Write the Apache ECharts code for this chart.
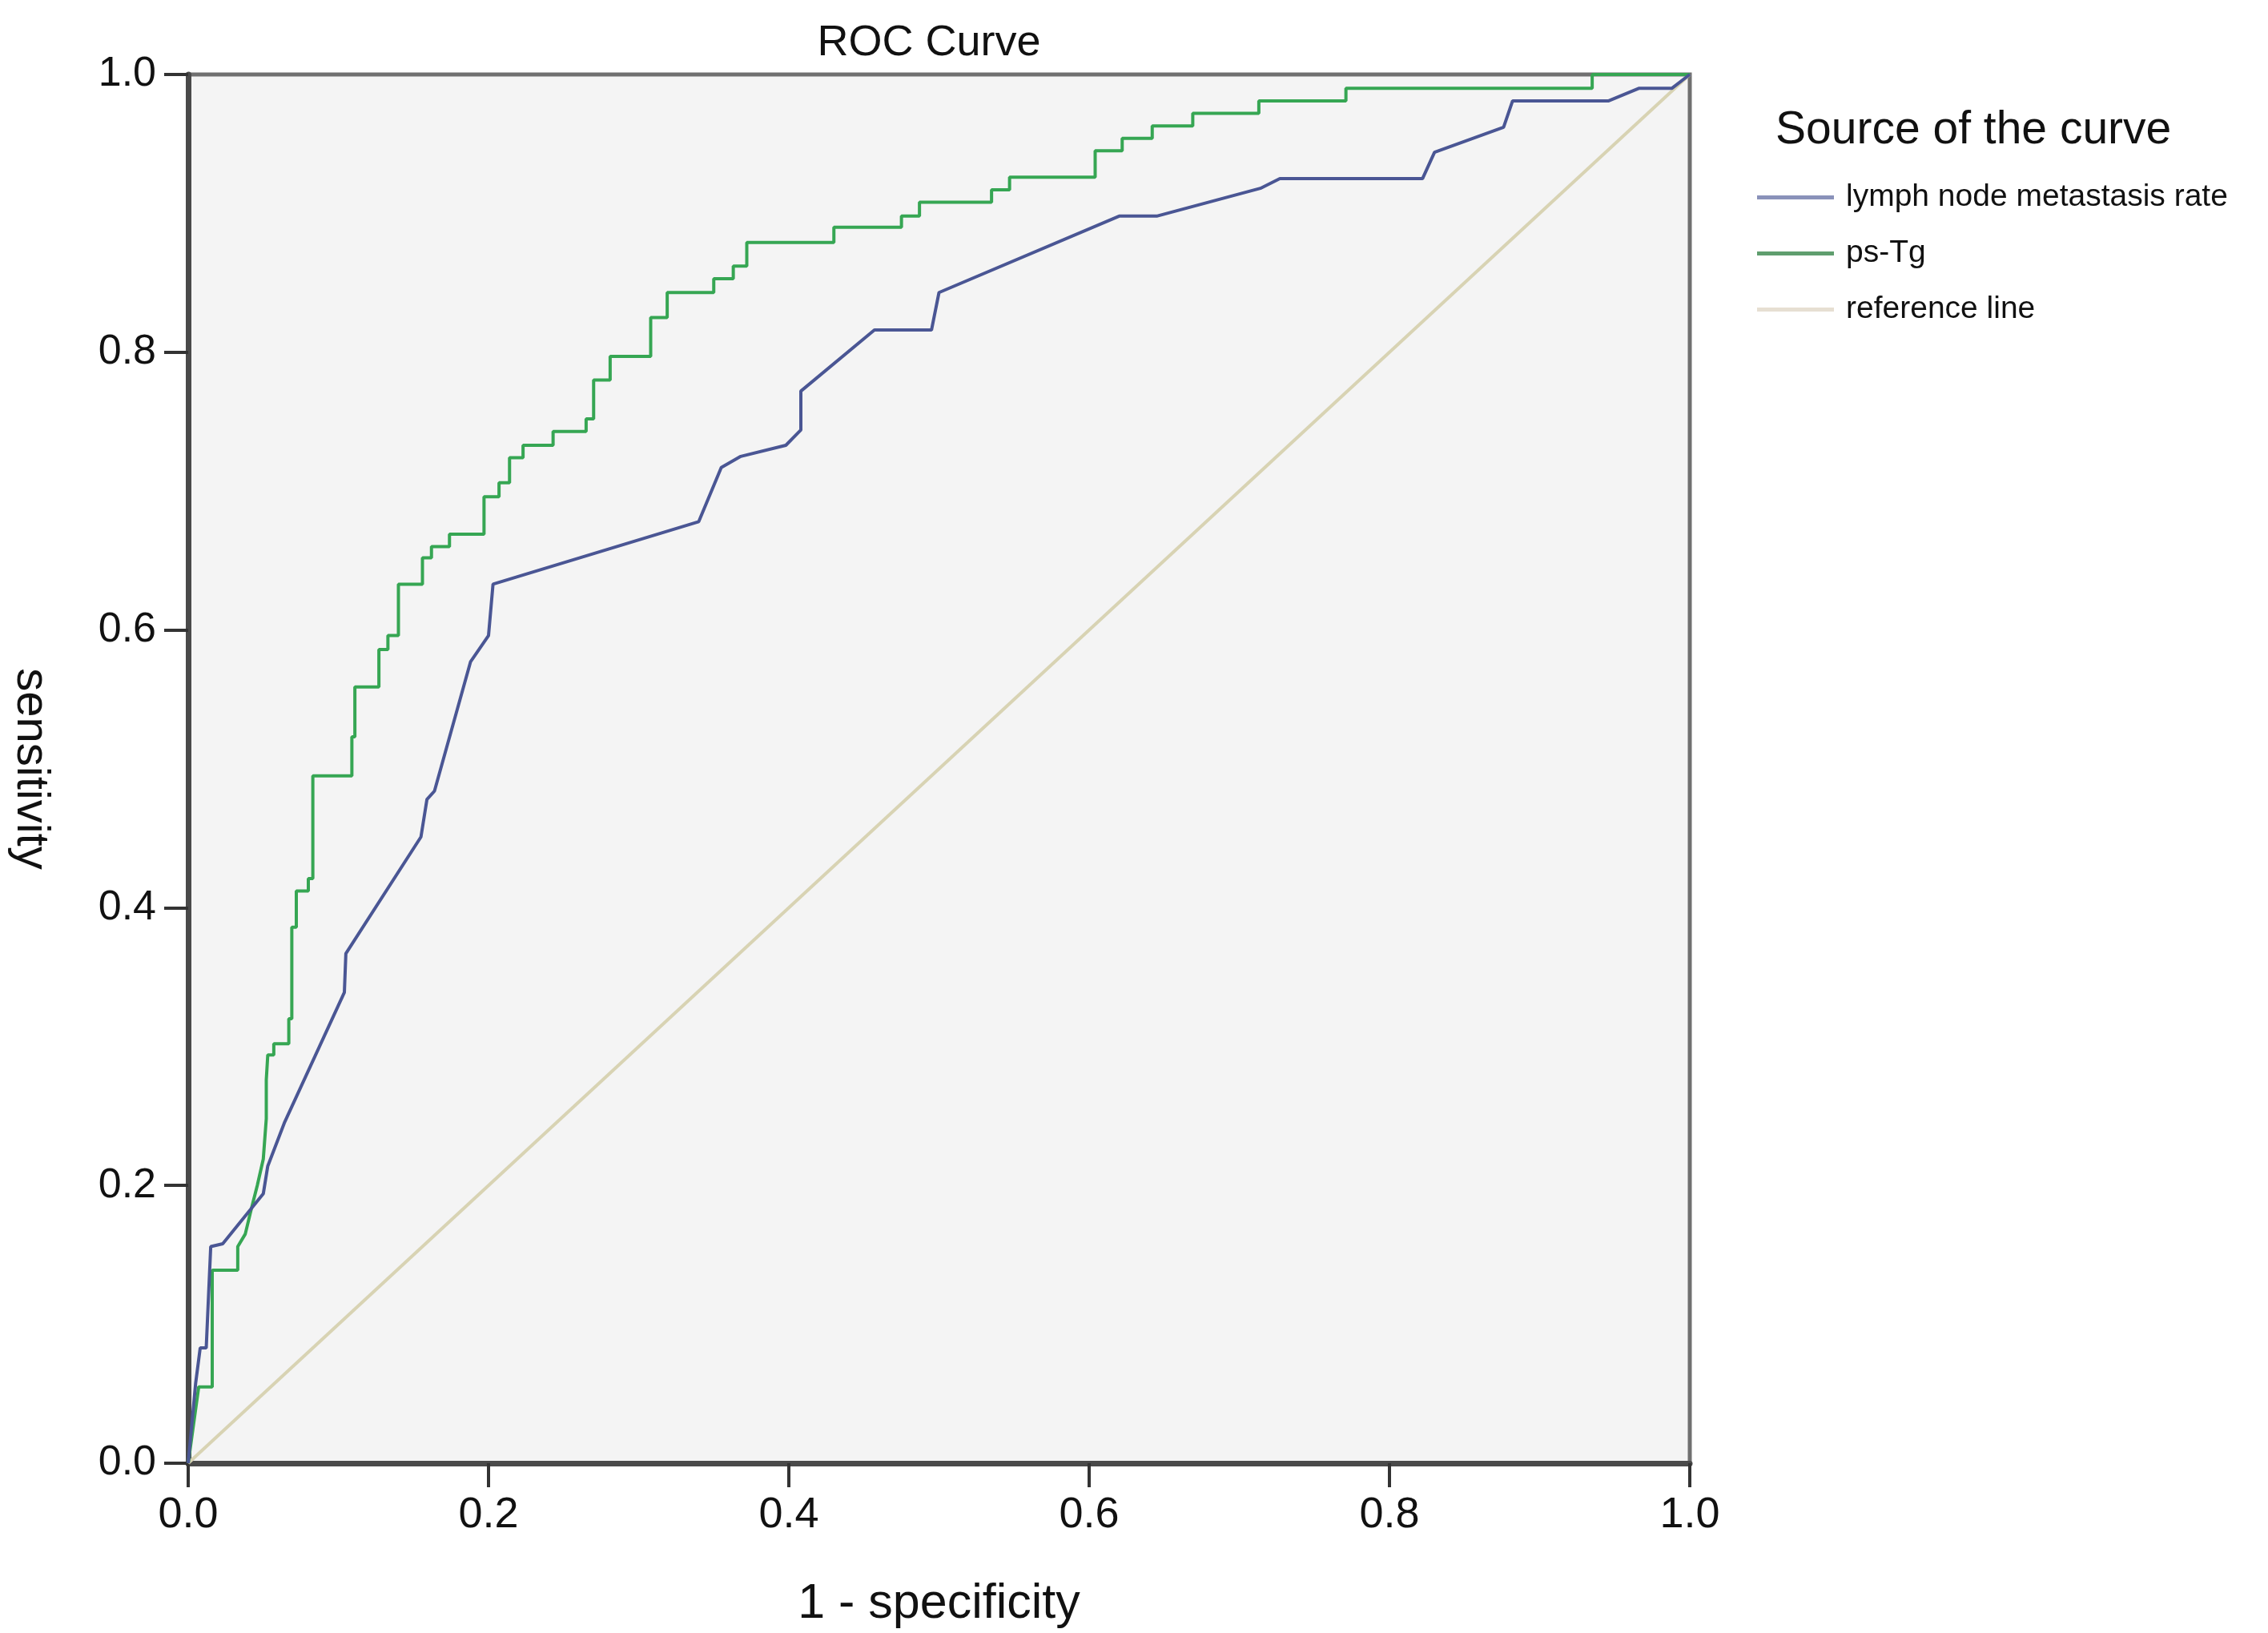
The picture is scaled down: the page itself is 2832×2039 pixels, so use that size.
<!DOCTYPE html>
<html>
<head>
<meta charset="utf-8">
<title>ROC Curve</title>
<script src="https://cdn.jsdelivr.net/npm/echarts@6/dist/echarts.min.js"></script>
<style>
  html, body { margin: 0; padding: 0; background: #fff; }
  #main { width: 2832px; height: 2039px; }
</style>
</head>
<body>
<div id="main"></div>
<script>
// ROC curve points, [1 - specificity, sensitivity]
var lymphPoints = [
  [0, 0], [0.005, 0.058], [0.008, 0.083], [0.012, 0.083], [0.015, 0.156],
  [0.023, 0.158], [0.050, 0.194], [0.053, 0.214], [0.064, 0.245], [0.104, 0.339],
  [0.105, 0.367], [0.155, 0.451], [0.159, 0.478], [0.164, 0.484], [0.188, 0.577],
  [0.200, 0.596], [0.203, 0.633], [0.340, 0.678], [0.355, 0.717], [0.368, 0.725],
  [0.398, 0.733], [0.408, 0.744], [0.408, 0.772], [0.457, 0.816], [0.495, 0.816],
  [0.500, 0.843], [0.620, 0.898], [0.645, 0.898], [0.714, 0.918], [0.727, 0.925],
  [0.822, 0.925], [0.830, 0.944], [0.876, 0.962], [0.882, 0.981], [0.946, 0.981],
  [0.966, 0.990], [0.988, 0.990], [1, 1]
];

var psTgPoints = [
  [0, 0], [0.007, 0.055], [0.016, 0.055], [0.016, 0.139], [0.033, 0.139],
  [0.033, 0.156], [0.038, 0.165], [0.042, 0.183], [0.046, 0.200], [0.050, 0.219],
  [0.052, 0.248], [0.052, 0.276], [0.053, 0.276], [0.053, 0.294], [0.057, 0.294],
  [0.057, 0.302], [0.067, 0.302], [0.067, 0.320], [0.069, 0.320], [0.069, 0.386],
  [0.072, 0.386], [0.072, 0.412], [0.080, 0.412], [0.080, 0.421], [0.083, 0.421],
  [0.083, 0.495], [0.109, 0.495], [0.109, 0.523], [0.111, 0.523], [0.111, 0.559],
  [0.127, 0.559], [0.127, 0.586], [0.133, 0.586], [0.133, 0.596], [0.140, 0.596],
  [0.140, 0.633], [0.156, 0.633], [0.156, 0.652], [0.162, 0.652], [0.162, 0.660],
  [0.174, 0.660], [0.174, 0.669], [0.197, 0.669], [0.197, 0.696], [0.207, 0.696],
  [0.207, 0.706], [0.214, 0.706], [0.214, 0.724], [0.223, 0.724], [0.223, 0.733],
  [0.243, 0.733], [0.243, 0.743], [0.265, 0.743], [0.265, 0.752], [0.270, 0.752],
  [0.270, 0.780], [0.281, 0.780], [0.281, 0.797], [0.308, 0.797], [0.308, 0.825],
  [0.319, 0.825], [0.319, 0.843], [0.350, 0.843], [0.350, 0.853], [0.363, 0.853],
  [0.363, 0.862], [0.372, 0.862], [0.372, 0.879], [0.430, 0.879], [0.430, 0.890],
  [0.475, 0.890], [0.475, 0.898], [0.487, 0.898], [0.487, 0.908], [0.535, 0.908],
  [0.535, 0.917], [0.547, 0.917], [0.547, 0.926], [0.604, 0.926], [0.604, 0.945],
  [0.622, 0.945], [0.622, 0.954], [0.642, 0.954], [0.642, 0.963], [0.669, 0.963],
  [0.669, 0.972], [0.713, 0.972], [0.713, 0.981], [0.771, 0.981], [0.771, 0.990],
  [0.935, 0.990], [0.935, 1.0], [1, 1]
];

var refPoints = [[0, 0], [1, 1]];

var seriesNames = ['lymph node metastasis rate', 'ps-Tg', 'reference line'];

var narrow = "'Liberation Sans Narrow', 'Liberation Sans', sans-serif";

var chart = echarts.init(document.getElementById('main'));

var option = {
  backgroundColor: '#ffffff',
  animation: false,
  title: [
    {
      text: 'ROC Curve',
      left: 1155,
      top: 22,
      textAlign: 'center',
      textStyle: { fontFamily: narrow, fontSize: 54, fontWeight: 'normal', color: '#111' }
    },
    {
      text: 'Source of the curve',
      left: 2212,
      top: 130,
      textStyle: { fontFamily: narrow, fontSize: 57, fontWeight: 'normal', color: '#111' }
    }
  ],
  legend: {
    data: seriesNames,
    orient: 'vertical',
    left: 2189,
    top: 222,
    itemWidth: 96,
    itemHeight: 5,
    itemGap: 31,
    icon: 'rect',
    textStyle: { fontFamily: narrow, fontSize: 39, color: '#111', padding: [0, 0, 0, 10] }
  },
  grid: {
    left: 235,
    top: 93,
    width: 1875,
    height: 1738,
    show: true,
    backgroundColor: '#f4f4f4',
    borderColor: '#707070',
    borderWidth: 5
  },
  xAxis: {
    type: 'value',
    min: 0,
    max: 1,
    interval: 0.2,
    name: '1 - specificity',
    nameLocation: 'middle',
    nameGap: 146,
    nameTextStyle: { fontFamily: narrow, fontSize: 61, color: '#111' },
    axisLine: { show: true, onZero: false, lineStyle: { color: '#4a4a4a', width: 7 } },
    axisTick: { show: true, inside: false, length: 30, lineStyle: { color: '#333', width: 4 } },
    axisLabel: {
      margin: 38,
      fontFamily: narrow,
      fontSize: 54,
      color: '#111',
      formatter: function (v) { return v.toFixed(1); }
    },
    splitLine: { show: false }
  },
  yAxis: {
    type: 'value',
    min: 0,
    max: 1,
    interval: 0.2,
    name: 'sensitivity',
    nameLocation: 'middle',
    nameGap: 168,
    nameRotate: -90,
    nameTextStyle: { fontFamily: narrow, fontSize: 58, color: '#111' },
    axisLine: { show: true, onZero: false, lineStyle: { color: '#4a4a4a', width: 7 } },
    axisTick: { show: true, inside: false, length: 30, lineStyle: { color: '#333', width: 4 } },
    axisLabel: {
      margin: 40,
      fontFamily: "'Liberation Sans', Arial, sans-serif",
      fontSize: 52,
      color: '#111',
      formatter: function (v) { return v.toFixed(1); }
    },
    splitLine: { show: false }
  },
  series: [
    {
      name: seriesNames[0],
      type: 'line',
      data: lymphPoints,
      showSymbol: false,
      symbol: 'none',
      z: 4,
      lineStyle: { color: '#4a5694', width: 4 },
      itemStyle: { color: '#8a92ba' }
    },
    {
      name: seriesNames[1],
      type: 'line',
      data: psTgPoints,
      showSymbol: false,
      symbol: 'none',
      z: 3,
      lineStyle: { color: '#36a653', width: 4 },
      itemStyle: { color: '#5f9e6e' }
    },
    {
      name: seriesNames[2],
      type: 'line',
      data: refPoints,
      showSymbol: false,
      symbol: 'none',
      z: 2,
      lineStyle: { color: '#d8d3b3', width: 4 },
      itemStyle: { color: '#e6dfd2' }
    }
  ]
};

chart.setOption(option);
</script>
</body>
</html>
